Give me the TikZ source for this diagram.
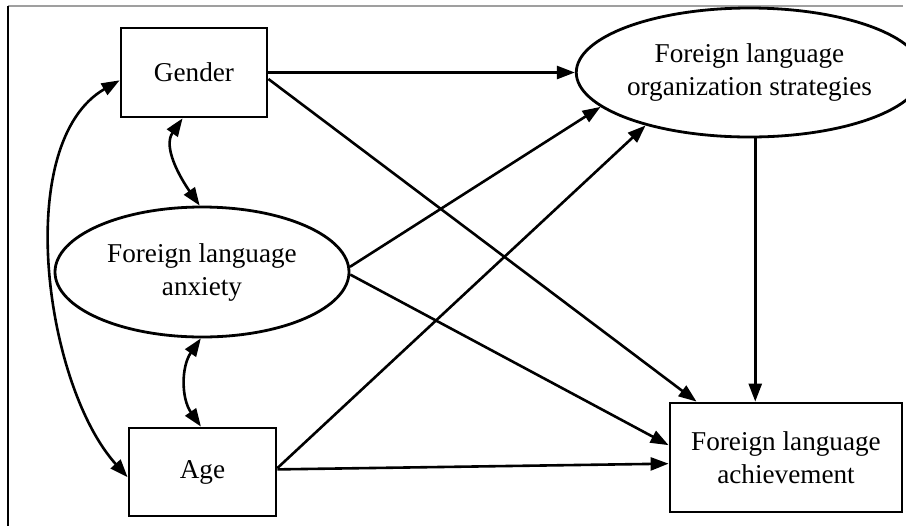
\documentclass[tikz,border=0pt]{standalone}
\usepackage{fontspec}
\setmainfont{Liberation Serif}
\usetikzlibrary{arrows.meta, shapes.geometric, calc}
\tikzset{
  path arrow/.style={
    -{Triangle[length=9pt, width=6.5pt]},
    line width=1.3pt,
    color=black
  },
  both arrow/.style={
    {Triangle[length=9pt, width=6.5pt]}-{Triangle[length=9pt, width=6.5pt]},
    line width=1.3pt,
    color=black
  },
  observed box/.style={
    draw,
    rectangle,
    line width=1.4pt,
    inner sep=0pt,
    align=center,
    font=\fontsize{13.6}{16.5}\selectfont
  },
  latent oval/.style={
    draw,
    ellipse,
    line width=1.4pt,
    inner sep=0pt,
    align=center,
    font=\fontsize{13.6}{16.5}\selectfont
  }
}
\begin{document}
\begin{tikzpicture}[x=0.5pt, y=-0.5pt]
    \useasboundingbox (0, 0) rectangle (906, 526);
    % frame
    \draw[gray!75, line width=1.4pt] (8, 6) -- (903, 6);
    \draw[line width=1pt] (8, 6) -- (8, 526);

    % variables
    \node[observed box, minimum width=73pt, minimum height=44.5pt] (gender) at (194, 72.5) {Gender};
    \node[observed box, minimum width=73.5pt, minimum height=44pt] (age) at (202.5, 472) {Age};
    \node[latent oval, minimum width=147pt, minimum height=65pt] (anxiety) at (202, 272) {Foreign language\\anxiety};
    \node[latent oval, minimum width=155.5pt, minimum height=64.5pt] (strategy) at (749.5, 72.5) {Foreign language\\organization strategies};
    \node[observed box, minimum width=116pt, minimum height=54.5pt] (achieve) at (786, 457.5) {Foreign language\\achievement};

    % covariances
    \draw[both arrow] (gender.-104) to[out=235, in=125] (anxiety.92);
    \draw[both arrow] (anxiety.-91) to[out=235, in=125] (age.92);
    \draw[both arrow] (gender.186) to[out=210, in=132, looseness=0.8] (age.184);

    % paths
    \draw[path arrow] (gender.east) -- (strategy.west);
    \draw[path arrow] (gender.-5) -- (achieve.148);
    \draw[path arrow] (anxiety.2) -- (strategy.193);
    \draw[path arrow] (anxiety.-1) -- (achieve.174);
    \draw[path arrow] (age.3) -- (strategy.207);
    \draw[path arrow] (age.2) -- (achieve.183);
    \draw[path arrow] (strategy.-85) -- (strategy.-85 |- achieve.north);
  \end{tikzpicture}
\end{document}
